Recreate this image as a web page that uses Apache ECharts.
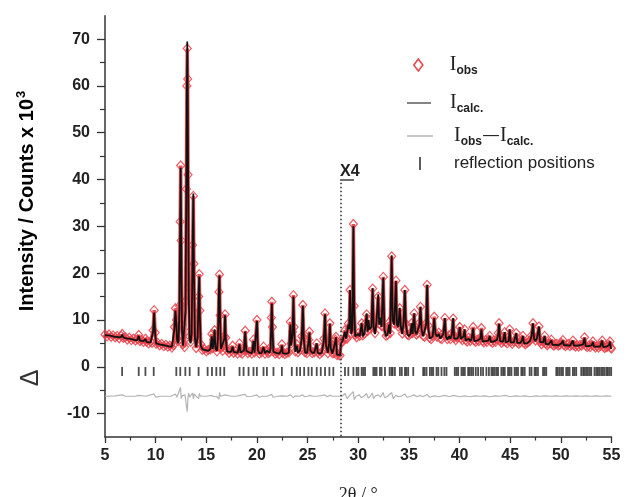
<!DOCTYPE html>
<html><head><meta charset="utf-8">
<script src="https://cdn.jsdelivr.net/npm/echarts@6/dist/echarts.min.js"></script>
<style>html,body{margin:0;padding:0;background:#fff}#c{width:631px;height:497px}</style>
</head><body><div id="c"></div>
<script>
// ---- tick labels ----
const xTicks = [5,10,15,20,25,30,35,40,45,50,55];
const yTicks = [-10,0,10,20,30,40,50,60,70];
const yMinorTicks = [-5,5,15,25,35,45,55,65];

// ---- profile: [2theta, I_calc, I_obs] (x10^3 counts), below the scale change ----
const profileLow = [
[5.0,6.8,6.9],[5.2,6.7,6.5],[5.4,6.7,6.9],[5.6,6.6,6.4],[5.8,6.5,6.7],[6.0,6.4,6.3],[6.2,6.4,6.6],[6.4,6.3,6.1],
[6.6,6.4,6.6],[6.7,6.9,7.0],[6.8,6.3,6.2],[7.0,6.1,6.3],[7.2,6.0,5.8],[7.4,6.0,6.2],[7.6,5.9,5.7],[7.8,5.8,6.0],
[8.0,5.7,5.6],[8.2,5.7,5.9],[8.33,6.6,6.8],[8.45,5.6,5.5],[8.6,5.5,5.7],[8.8,5.5,5.3],[9.0,5.9,6.0],[9.1,5.3,5.4],
[9.3,5.2,5.0],[9.5,5.2,5.4],[9.65,5.2,5.1],[9.75,7.5,7.8],[9.85,11.6,12.1],[9.95,7.0,7.3],[10.05,5.0,4.9],[10.2,4.9,5.1],
[10.4,4.8,4.6],[10.6,4.7,4.9],[10.8,4.6,4.4],[11.0,4.5,4.7],[11.2,4.4,4.3],[11.4,4.3,4.5],[11.6,4.3,4.1],[11.75,4.5,4.6],
[11.85,8.0,8.5],[11.95,12.0,12.5],[12.05,9.0,10.0],[12.12,5.5,6.0],[12.25,5.0,5.5],[12.35,12.0,13.0],[12.42,30.0,31.0],[12.47,42.5,43.0],
[12.52,28.0,27.0],[12.6,8.0,9.0],[12.7,4.5,4.8],[12.85,4.4,4.2],[12.95,12.0,14.0],[13.03,40.0,38.0],[13.08,58.0,60.0],[13.12,69.5,68.0],
[13.16,60.0,61.5],[13.2,42.0,41.0],[13.27,15.0,17.0],[13.35,6.0,6.5],[13.45,5.0,5.3],[13.55,7.0,8.0],[13.65,25.0,26.0],[13.72,37.0,36.5],
[13.78,20.0,22.0],[13.88,6.0,6.5],[14.0,4.2,4.0],[14.15,6.5,7.0],[14.25,16.0,15.0],[14.3,19.3,19.8],[14.36,11.0,12.0],[14.45,4.5,4.8],
[14.6,3.8,3.6],[14.8,3.6,3.8],[15.0,3.5,3.3],[15.2,3.4,3.6],[15.4,3.8,3.7],[15.55,6.5,7.0],[15.62,3.8,4.0],[15.75,5.5,5.8],
[15.82,8.0,7.8],[15.9,4.0,4.2],[16.05,3.4,3.3],[16.15,6.0,6.5],[16.25,17.0,16.0],[16.3,19.5,19.7],[16.36,10.0,11.0],[16.45,3.8,4.0],
[16.6,3.6,3.4],[16.78,6.0,6.5],[16.85,11.0,11.2],[16.92,6.0,6.2],[17.05,3.3,3.5],[17.25,3.2,3.0],[17.45,3.2,3.4],[17.6,4.3,4.5],
[17.7,3.2,3.0],[17.9,3.1,3.3],[18.1,3.0,2.8],[18.28,4.8,5.0],[18.38,3.0,3.1],[18.55,3.0,2.8],[18.72,3.5,3.6],[18.84,7.5,7.7],
[18.95,3.4,3.6],[19.1,3.0,2.9],[19.3,3.0,3.2],[19.5,2.9,2.8],[19.66,5.5,5.8],[19.76,3.0,3.1],[19.9,3.4,3.5],[20.0,9.8,10.0],
[20.1,3.5,3.6],[20.25,2.9,2.8],[20.45,2.9,3.1],[20.65,4.2,4.3],[20.8,2.9,2.8],[20.98,3.4,3.5],[21.1,3.0,2.9],[21.25,3.0,3.1],
[21.35,4.0,4.2],[21.42,10.0,10.5],[21.47,13.5,13.9],[21.53,8.0,8.5],[21.62,3.2,3.3],[21.8,2.9,2.8],[22.0,2.9,3.0],[22.2,2.8,2.7],
[22.4,3.5,3.6],[22.46,4.6,4.8],[22.55,2.9,3.0],[22.75,2.8,2.7],[22.95,2.8,3.0],[23.15,3.0,3.1],[23.3,9.0,9.6],[23.38,4.5,5.0],
[23.52,7.0,7.5],[23.6,15.0,15.3],[23.67,8.0,8.5],[23.78,3.2,3.3],[23.93,4.5,4.8],[24.05,3.0,3.1],[24.25,3.5,3.6],[24.42,6.0,6.5],
[24.53,13.0,13.2],[24.62,6.0,6.3],[24.75,3.0,3.1],[24.95,3.0,2.9],[25.1,5.5,5.8],[25.18,7.3,7.5],[25.27,3.5,3.6],[25.45,3.0,2.9],
[25.65,3.0,3.1],[25.9,5.0,5.0],[26.0,3.0,3.1],[26.2,2.8,2.7],[26.4,3.0,3.1],[26.6,5.5,6.0],[26.72,11.2,11.4],[26.82,4.5,4.6],
[27.0,3.0,2.9],[27.12,5.0,5.3],[27.2,9.2,9.3],[27.28,4.0,4.2],[27.45,2.8,2.9],[27.6,3.0,2.9],[27.75,5.5,5.8],[27.8,6.3,6.4],
[27.9,2.6,2.5],[28.05,2.5,2.6],[28.2,2.5,2.4]
];

// ---- profile above the scale change (shown x4) ----
const profileHigh = [
[28.3,5.0,5.2],[28.45,5.5,5.3],[28.6,5.8,6.0],[28.69,7.5,7.8],[28.8,6.0,6.1],[28.9,6.2,6.0],[29.02,9.0,9.2],[29.1,8.0,8.2],
[29.19,16.4,16.4],[29.3,7.0,7.2],[29.42,8.0,8.5],[29.52,30.0,30.5],[29.6,12.0,13.0],[29.7,6.5,6.8],[29.84,6.5,6.3],[30.0,7.0,7.2],
[30.15,6.5,6.6],[30.34,9.3,9.3],[30.45,6.5,6.7],[30.6,7.0,7.1],[30.72,9.0,9.3],[30.83,11.4,11.2],[30.93,7.5,7.6],[31.0,10.0,10.0],
[31.1,8.0,8.2],[31.3,8.5,8.7],[31.42,16.8,16.7],[31.52,8.5,8.6],[31.65,7.0,7.2],[31.8,9.5,9.8],[31.97,15.5,15.0],[32.07,9.0,9.2],
[32.2,10.5,11.0],[32.3,8.5,8.7],[32.47,19.0,19.2],[32.58,8.0,8.3],[32.75,6.5,6.6],[32.9,7.0,6.8],[33.05,9.0,9.5],[33.15,7.0,7.2],
[33.3,23.8,23.6],[33.4,10.0,10.5],[33.55,9.0,9.2],[33.72,18.3,18.4],[33.82,9.0,9.3],[33.95,8.5,8.6],[34.1,12.6,12.5],[34.2,8.5,8.7],
[34.35,7.0,7.1],[34.48,9.5,9.6],[34.6,16.4,16.4],[34.7,9.0,9.2],[34.85,7.0,6.9],[35.0,6.5,6.7],[35.15,7.0,7.1],[35.27,9.3,9.3],
[35.36,7.0,7.2],[35.52,11.4,11.4],[35.62,7.5,7.6],[35.75,7.0,6.9],[35.9,7.0,7.2],[36.05,9.0,9.4],[36.14,12.8,12.8],[36.25,8.0,8.1],
[36.4,6.5,6.6],[36.55,6.5,6.4],[36.7,9.0,9.3],[36.8,17.5,17.5],[36.9,8.5,8.8],[37.05,6.0,6.2],[37.2,6.0,5.9],[37.35,6.5,6.6],
[37.5,10.4,10.7],[37.62,7.0,7.2],[37.78,6.5,6.4],[37.95,7.0,7.3],[38.1,6.0,6.1],[38.25,6.0,5.9],[38.4,7.0,7.2],[38.55,10.4,10.4],
[38.65,6.5,6.6],[38.8,5.8,5.9],[38.95,6.5,6.7],[39.1,6.0,5.9],[39.25,7.0,7.2],[39.37,10.4,10.3],[39.47,6.0,6.2],[39.62,5.8,5.7],
[39.78,6.0,6.2],[39.9,6.5,6.4],[40.02,8.5,8.5],[40.12,6.0,6.1],[40.28,5.6,5.7],[40.4,6.5,6.4],[40.5,8.0,8.0],[40.6,5.6,5.7],
[40.75,5.5,5.4],[40.9,6.0,6.2],[41.05,5.5,5.5],[41.2,6.0,6.1],[41.34,8.2,8.5],[41.45,5.5,5.6],[41.6,5.4,5.3],[41.75,5.6,5.8],
[41.9,5.6,5.5],[42.05,6.0,6.2],[42.16,8.0,8.3],[42.27,5.4,5.5],[42.4,5.3,5.2],[42.55,5.5,5.7],[42.7,5.4,5.3],[42.85,5.6,5.8],
[42.98,6.6,6.6],[43.1,5.3,5.4],[43.25,5.2,5.1],[43.4,5.4,5.6],[43.55,5.4,5.3],[43.7,5.8,5.9],[43.82,7.0,7.2],[43.9,9.2,9.3],
[44.0,5.5,5.6],[44.15,5.2,5.1],[44.3,5.4,5.5],[44.46,7.4,7.4],[44.56,5.2,5.3],[44.7,5.1,5.0],[44.85,5.5,5.6],[44.95,8.0,8.0],
[45.05,5.2,5.3],[45.2,5.0,4.9],[45.35,5.2,5.4],[45.5,5.6,5.7],[45.6,7.2,7.2],[45.7,5.1,5.2],[45.85,5.0,4.9],[46.0,5.1,5.2],
[46.15,5.6,5.8],[46.26,6.6,6.6],[46.36,5.0,5.1],[46.5,4.9,4.8],[46.65,5.0,5.1],[46.8,5.2,5.3],[46.95,5.5,5.6],[47.1,6.5,6.7],
[47.25,9.3,9.3],[47.35,6.0,6.2],[47.5,5.5,5.6],[47.65,6.2,6.4],[47.84,8.6,8.6],[47.94,5.3,5.4],[48.1,4.9,4.8],[48.25,5.2,5.3],
[48.4,6.6,6.6],[48.5,4.9,5.0],[48.65,4.7,4.6],[48.8,4.8,4.9],[48.95,5.0,5.1],[49.06,5.6,5.8],[49.17,4.7,4.8],[49.3,4.6,4.5],
[49.45,4.7,4.8],[49.6,4.8,4.9],[49.75,4.6,4.5],[49.9,4.6,4.7],[50.05,5.0,5.1],[50.2,5.6,5.7],[50.3,4.6,4.7],[50.45,4.5,4.4],
[50.6,4.6,4.7],[50.75,4.8,4.9],[50.9,4.5,4.4],[51.05,4.6,4.7],[51.19,5.6,5.6],[51.3,4.5,4.6],[51.45,4.4,4.3],[51.6,4.5,4.6],
[51.75,4.4,4.3],[51.9,4.6,4.7],[52.05,4.4,4.5],[52.2,4.8,4.9],[52.34,6.2,6.3],[52.45,4.4,4.5],[52.6,4.3,4.2],[52.75,4.4,4.5],
[52.9,4.3,4.2],[53.05,4.6,4.7],[53.16,5.3,5.4],[53.27,4.3,4.4],[53.42,4.2,4.1],[53.58,4.3,4.4],[53.72,4.2,4.1],[53.88,4.3,4.4],
[54.0,4.7,4.8],[54.08,5.6,5.6],[54.18,4.2,4.3],[54.32,4.1,4.0],[54.48,4.3,4.2],[54.62,4.2,4.3],[54.75,4.6,4.7],[54.85,5.4,5.4],
[54.93,4.0,4.1],[55.0,3.8,3.9]
];

// ---- difference curve I_obs - I_calc (plotted with its offset, as read) ----
const diffCurve = [
[5,-6.3],[6,-6.2],[6.7,-6.0],[7,-6.3],[8,-6.3],[8.3,-6.1],[9,-6.3],[9.85,-5.8],[10,-6.5],[10.5,-6.3],[11,-6.3],[11.5,-6.3],
[11.95,-5.8],[12.1,-6.5],[12.35,-5.0],[12.45,-4.4],[12.52,-6.8],[12.6,-6.2],[12.9,-6.0],[13.0,-7.8],[13.08,-8.2],[13.12,-9.6],
[13.18,-7.0],[13.25,-5.6],[13.35,-6.5],[13.65,-5.6],[13.72,-6.8],[13.8,-5.8],[14.0,-6.3],[14.25,-6.8],[14.3,-5.7],[14.4,-6.2],
[14.6,-6.3],[15.0,-6.3],[15.5,-6.1],[15.8,-6.4],[16.0,-6.3],[16.25,-6.9],[16.3,-5.5],[16.4,-6.3],[16.85,-6.0],[17.0,-6.4],
[17.5,-6.3],[18.0,-6.3],[18.3,-6.1],[18.84,-5.9],[19.0,-6.4],[19.5,-6.3],[20.0,-6.0],[20.2,-6.5],[20.6,-6.3],[21.0,-6.3],
[21.45,-5.9],[21.6,-6.5],[22.0,-6.3],[22.5,-6.2],[23.0,-6.3],[23.3,-6.0],[23.6,-6.6],[23.8,-6.2],[24.2,-6.3],[24.5,-6.0],
[24.7,-6.4],[25.0,-6.3],[25.2,-6.1],[25.5,-6.3],[26.0,-6.3],[26.7,-6.0],[26.9,-6.4],[27.2,-6.1],[27.5,-6.3],[28.0,-6.3],
[28.4,-6.3],[28.7,-5.7],[28.9,-6.8],[29.2,-6.0],[29.5,-5.3],[29.6,-7.0],[29.8,-6.3],[30.1,-6.0],[30.3,-6.6],[30.6,-6.2],
[30.8,-5.7],[31.0,-6.7],[31.2,-6.2],[31.4,-5.6],[31.5,-6.8],[31.7,-6.2],[32.0,-6.0],[32.2,-6.5],[32.45,-5.5],[32.6,-6.6],
[32.9,-6.3],[33.3,-5.5],[33.45,-6.8],[33.7,-6.1],[34.0,-6.4],[34.3,-6.2],[34.6,-5.8],[34.8,-6.5],[35.2,-6.3],[35.5,-6.0],
[35.8,-6.4],[36.1,-6.1],[36.4,-6.4],[36.8,-5.9],[37.0,-6.5],[37.5,-6.2],[38.0,-6.4],[38.5,-6.1],[39.0,-6.4],[39.4,-6.1],
[40.0,-6.4],[40.5,-6.2],[41.0,-6.4],[41.5,-6.2],[42.0,-6.3],[42.5,-6.2],[43.0,-6.4],[43.5,-6.2],[44.0,-6.3],[44.5,-6.1],
[45.0,-6.4],[45.5,-6.2],[46.0,-6.3],[46.5,-6.2],[47.0,-6.4],[47.5,-6.2],[48.0,-6.3],[48.5,-6.2],[49,-6.3],[49.5,-6.2],
[50,-6.3],[50.5,-6.2],[51,-6.3],[51.5,-6.2],[52,-6.3],[52.5,-6.2],[53,-6.3],[53.5,-6.2],[54,-6.3],[54.5,-6.2],[55,-6.3]
];

// ---- reflection positions (2theta) ----
const reflections = [
6.69,8.33,8.99,9.81,12.04,12.43,12.93,13.36,14.24,15.13,15.56,15.99,16.38,16.77,18.28,18.68,19.17,19.66,19.99,20.65,
20.98,21.63,22.46,23.44,23.93,24.26,24.66,25.08,25.41,25.90,26.30,26.72,27.15,27.54,28.69,29.02,29.52,29.84,30.01,30.34,
30.50,30.67,31.49,31.65,31.81,32.14,32.30,32.64,33.10,33.29,33.40,33.62,34.11,34.30,34.61,34.75,34.93,35.43,36.41,36.55,
36.74,37.07,37.25,37.40,37.73,37.90,38.22,38.50,38.71,39.53,39.70,39.86,40.19,40.35,40.52,40.85,41.00,41.17,41.34,41.60,
41.83,42.10,42.32,42.65,42.90,43.15,43.30,43.47,43.65,43.80,44.13,44.30,44.46,44.79,44.95,45.12,45.44,45.60,45.77,46.10,
46.25,46.43,46.92,47.10,47.41,47.55,47.74,48.24,48.40,48.56,49.55,49.70,49.88,50.05,50.21,50.53,50.70,50.86,51.19,51.35,
51.52,52.01,52.20,52.34,52.50,52.67,52.85,53.00,53.32,53.50,53.65,53.80,53.98,54.15,54.31,54.50,54.64,54.80,54.97
];
const reflectionLevel = [-1];   // value at which the reflection ticks are drawn
const scaleChange = [28.3, 39.3]; // 2theta of the x4 scale change, top of its marker (x10^3)

const profile = profileLow.concat(profileHigh);
const calcData = profile.map(p => [p[0], p[1]]);
const obsData = profile.map(p => [p[0], p[2]]);
const reflData = reflections.map(x => [x, reflectionLevel[0]]);

const RED = '#e3262c';
const TXT = '#222';
const subRich = {
  i: {fontFamily: 'Liberation Serif', fontSize: 20, color: TXT},
  s: {fontFamily: 'Liberation Sans', fontWeight: 'bold', fontSize: 12, color: TXT, padding: [12, 0, 0, 0]},
  d: {fontFamily: 'Liberation Sans', fontSize: 16, color: TXT, padding: [0, 1, 0, 1]},
  r: {fontFamily: 'Liberation Sans', fontSize: 17, color: TXT}
};
const legendNames = {
  Iobs: '{i|I}{s|obs}',
  Icalc: '{i|I}{s|calc.}',
  Idiff: '{i|I}{s|obs}{d|—}{i|I}{s|calc.}',
  refl: '{r|reflection positions}'
};
function mkLegend(item, left, top, w, h, padLeft) {
  return {
    data: [item], left: left, top: top, itemWidth: w, itemHeight: h, selectedMode: false,
    padding: 0, formatter: n => legendNames[n],
    textStyle: {rich: subRich, padding: [0, 0, 0, padLeft]}
  };
}

const chart = echarts.init(document.getElementById('c'), null, {renderer: 'canvas'});
chart.setOption({
  animation: false,
  backgroundColor: '#fff',
  grid: {left: 105, right: 19.5, top: 15.7, bottom: 60, containLabel: false, outerBoundsMode: 'none'},
  xAxis: {
    type: 'value', min: 5, max: 55, interval: 5,
    name: '2θ / °', nameLocation: 'middle', nameGap: 49,
    nameTextStyle: {fontFamily: 'Liberation Serif', fontSize: 18, color: TXT},
    axisLine: {onZero: false, lineStyle: {color: '#333', width: 1.5}},
    axisTick: {length: 6, lineStyle: {color: '#333', width: 1.3}},
    minorTick: {show: true, splitNumber: 2, length: 3.5, lineStyle: {color: '#333', width: 1.2}},
    splitLine: {show: false},
    axisLabel: {customValues: xTicks, margin: 11, fontFamily: 'Liberation Sans', fontWeight: 'bold', fontSize: 16, color: TXT}
  },
  yAxis: [{
    type: 'value', min: -15, max: 75,
    axisLine: {show: true, onZero: false, lineStyle: {color: '#333', width: 1.5}},
    axisTick: {show: true, customValues: yTicks, length: 8, lineStyle: {color: '#333', width: 1.3}},
    splitLine: {show: false},
    axisLabel: {customValues: yTicks, margin: 15, fontFamily: 'Liberation Sans', fontWeight: 'bold', fontSize: 16, color: TXT}
  }, {
    type: 'value', min: -15, max: 75, position: 'left',
    axisLine: {show: false},
    axisTick: {show: true, customValues: yMinorTicks, length: 5, lineStyle: {color: '#333', width: 1.2}},
    axisLabel: {show: false}, splitLine: {show: false}
  }],
  legend: [
    mkLegend({name: 'Iobs', icon: 'diamond', itemStyle: {color: 'rgba(0,0,0,0)', borderColor: RED, borderWidth: 1.6}}, 413, 55, 9, 12, 22),
    mkLegend({name: 'Icalc', icon: 'rect', itemStyle: {color: '#666'}}, 407, 93, 24, 1.6, 14),
    mkLegend({name: 'Idiff', icon: 'rect', itemStyle: {color: '#bbb'}}, 407, 126, 26, 1.6, 16),
    mkLegend({name: 'refl', icon: 'rect', itemStyle: {color: '#333'}}, 419, 155, 2, 13, 28)
  ],
  series: [
    {name: 'Idiff', type: 'line', data: diffCurve, showSymbol: false, z: 2,
     lineStyle: {color: '#b4b4b4', width: 1.2}, itemStyle: {color: '#bbb'}},
    {name: 'refl', type: 'scatter', data: reflData, symbol: 'rect', symbolSize: [1.8, 9], z: 2,
     itemStyle: {color: '#222'}},
    {name: 'Iobs', type: 'line', data: obsData, showSymbol: true, symbol: 'diamond', symbolSize: [8, 9], z: 3,
     lineStyle: {color: '#e2262b', width: 3.5, opacity: 0.8},
     itemStyle: {color: 'rgba(0,0,0,0)', borderColor: '#e8404a', borderWidth: 1.2, opacity: 0.85}},
    {name: 'Icalc', type: 'line', data: calcData, showSymbol: false, z: 4, sampling: null,
     lineStyle: {color: '#111', width: 1.8}, itemStyle: {color: '#666'},
     markLine: {silent: true, symbol: 'none', animation: false,
       lineStyle: {color: '#333', width: 1.6, type: [1.5, 2.5]},
       label: {show: false},
       data: [[{coord: [scaleChange[0], scaleChange[1]]}, {coord: [scaleChange[0], -15]}]]}}
  ],
  graphic: [
    {type: 'text', x: 27, y: 201, rotation: Math.PI / 2,
     style: {text: '{a|Intensity / Counts x 10}{b|3}', align: 'center', verticalAlign: 'middle',
       rich: {a: {fontFamily: 'Liberation Sans', fontWeight: 'bold', fontSize: 20, color: TXT},
              b: {fontFamily: 'Liberation Sans', fontWeight: 'bold', fontSize: 13, color: TXT, padding: [0, 0, 12, 1]}}}},
    {type: 'text', x: 31, y: 378, rotation: Math.PI / 2,
     style: {text: 'Δ', align: 'center', verticalAlign: 'middle', fontFamily: 'Liberation Sans', fontSize: 25, fill: '#333'}},
    {type: 'text', x: 340, y: 172,
     style: {text: 'X4', align: 'left', verticalAlign: 'middle', fontFamily: 'Liberation Sans', fontWeight: 'bold', fontSize: 16, fill: TXT}},
    {type: 'line', shape: {x1: 340, y1: 180, x2: 354, y2: 180}, style: {stroke: TXT, lineWidth: 1.3}}
  ]
});
</script>
</body></html>
